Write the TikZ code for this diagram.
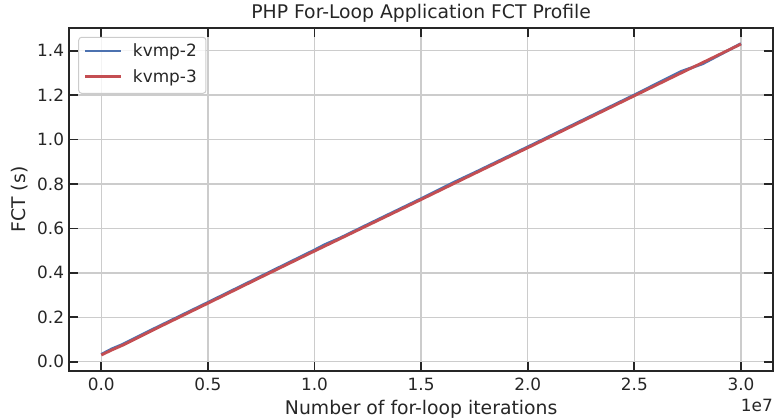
\documentclass[tikz,border=0pt]{standalone}
\usepackage{fontspec}
\setmainfont{DejaVu Sans}
\usepackage{tikz}
\usetikzlibrary{positioning}
\definecolor{kvmptwo}{HTML}{4C72B0}
\definecolor{kvmpthree}{HTML}{C44E52}
\definecolor{axcol}{HTML}{262626}
\definecolor{gridcol}{HTML}{CCCCCC}
\tikzset{plot style/.style={x=213.23bp,y=222.14bp},
	gridline/.style={draw=gridcol,line width=1.4bp},
	spine/.style={draw=axcol,line width=2bp},
	axtick/.style={draw=axcol,line width=1.8bp},
	ticklab/.style={text=axcol,inner sep=0,font=\fontsize{16.9bp}{20bp}\selectfont},
	xtl/.style={ticklab,anchor=north,yshift=-7bp},
	ytl/.style={ticklab,anchor=east,xshift=-5bp},
	biglab/.style={text=axcol,inner sep=0,font=\fontsize{18.8bp}{22bp}\selectfont},
	curve/.style={line width=2.8bp,line join=round},
	handle/.style={line width=2.4bp}}

\begin{document}
\begin{tikzpicture}[plot style]
	\useasboundingbox (-101.3bp,-58.3bp) rectangle (672.7bp,361.7bp);

	% x axis: 0.0 ... 3.0 (x 1e7)
	\draw[gridline] (0,-0.04) -- (0,1.5);
	\draw[axtick] (0,-0.04) -- ++(0,8.5bp) (0,1.5) -- ++(0,-8.5bp);
	\node[xtl] (xt0) at (0,-0.04) {0.0};

	\draw[gridline] (0.5,-0.04) -- (0.5,1.5);
	\draw[axtick] (0.5,-0.04) -- ++(0,8.5bp) (0.5,1.5) -- ++(0,-8.5bp);
	\node[xtl] (xt1) at (0.5,-0.04) {0.5};

	\draw[gridline] (1,-0.04) -- (1,1.5);
	\draw[axtick] (1,-0.04) -- ++(0,8.5bp) (1,1.5) -- ++(0,-8.5bp);
	\node[xtl] (xt2) at (1,-0.04) {1.0};

	\draw[gridline] (1.5,-0.04) -- (1.5,1.5);
	\draw[axtick] (1.5,-0.04) -- ++(0,8.5bp) (1.5,1.5) -- ++(0,-8.5bp);
	\node[xtl] (xt3) at (1.5,-0.04) {1.5};

	\draw[gridline] (2,-0.04) -- (2,1.5);
	\draw[axtick] (2,-0.04) -- ++(0,8.5bp) (2,1.5) -- ++(0,-8.5bp);
	\node[xtl] (xt4) at (2,-0.04) {2.0};

	\draw[gridline] (2.5,-0.04) -- (2.5,1.5);
	\draw[axtick] (2.5,-0.04) -- ++(0,8.5bp) (2.5,1.5) -- ++(0,-8.5bp);
	\node[xtl] (xt5) at (2.5,-0.04) {2.5};

	\draw[gridline] (3,-0.04) -- (3,1.5);
	\draw[axtick] (3,-0.04) -- ++(0,8.5bp) (3,1.5) -- ++(0,-8.5bp);
	\node[xtl] (xt6) at (3,-0.04) {3.0};

	% y axis: 0.0 ... 1.4
	\draw[gridline] (-0.15,0) -- (3.15,0);
	\draw[axtick] (-0.15,0) -- ++(8.5bp,0) (3.15,0) -- ++(-8.5bp,0);
	\node[ytl] (yt0) at (-0.15,0) {0.0};

	\draw[gridline] (-0.15,0.2) -- (3.15,0.2);
	\draw[axtick] (-0.15,0.2) -- ++(8.5bp,0) (3.15,0.2) -- ++(-8.5bp,0);
	\node[ytl] (yt1) at (-0.15,0.2) {0.2};

	\draw[gridline] (-0.15,0.4) -- (3.15,0.4);
	\draw[axtick] (-0.15,0.4) -- ++(8.5bp,0) (3.15,0.4) -- ++(-8.5bp,0);
	\node[ytl] (yt2) at (-0.15,0.4) {0.4};

	\draw[gridline] (-0.15,0.6) -- (3.15,0.6);
	\draw[axtick] (-0.15,0.6) -- ++(8.5bp,0) (3.15,0.6) -- ++(-8.5bp,0);
	\node[ytl] (yt3) at (-0.15,0.6) {0.6};

	\draw[gridline] (-0.15,0.8) -- (3.15,0.8);
	\draw[axtick] (-0.15,0.8) -- ++(8.5bp,0) (3.15,0.8) -- ++(-8.5bp,0);
	\node[ytl] (yt4) at (-0.15,0.8) {0.8};

	\draw[gridline] (-0.15,1.0) -- (3.15,1.0);
	\draw[axtick] (-0.15,1.0) -- ++(8.5bp,0) (3.15,1.0) -- ++(-8.5bp,0);
	\node[ytl] (yt5) at (-0.15,1.0) {1.0};

	\draw[gridline] (-0.15,1.2) -- (3.15,1.2);
	\draw[axtick] (-0.15,1.2) -- ++(8.5bp,0) (3.15,1.2) -- ++(-8.5bp,0);
	\node[ytl] (yt6) at (-0.15,1.2) {1.2};

	\draw[gridline] (-0.15,1.4) -- (3.15,1.4);
	\draw[axtick] (-0.15,1.4) -- ++(8.5bp,0) (3.15,1.4) -- ++(-8.5bp,0);
	\node[ytl] (yt7) at (-0.15,1.4) {1.4};

	\draw[spine] (-0.15,-0.04) rectangle (3.15,1.5);

	% kvmp-2
	\draw[curve, kvmptwo] (0,0.033) -- (0.05,0.058) -- (0.1,0.078) -- (0.25,0.150)
		-- (0.5,0.267) -- (0.75,0.385) -- (1.0,0.503) -- (1.05,0.528) -- (1.12,0.557)
		-- (1.25,0.618) -- (1.5,0.734) -- (1.65,0.806) -- (1.75,0.851) -- (2.0,0.967)
		-- (2.25,1.084) -- (2.5,1.201) -- (2.72,1.307) -- (2.77,1.324) -- (2.82,1.341)
		-- (3.0,1.432);
	% kvmp-3
	\draw[curve, kvmpthree] (0,0.030) -- (0.05,0.053) -- (0.1,0.074) -- (0.25,0.146)
		-- (0.5,0.263) -- (0.75,0.381) -- (1.0,0.498) -- (1.25,0.614) -- (1.5,0.730)
		-- (1.75,0.847) -- (2.0,0.963) -- (2.25,1.080) -- (2.5,1.197) -- (2.75,1.314)
		-- (3.0,1.430);

	% legend
	\draw[draw=gridcol, fill=white, fill opacity=0.8, rounded corners=3bp, line width=1bp] (-0.106,1.2082) rectangle (0.491,1.4603);
	\draw[handle, kvmptwo] (-0.0764,1.3987) -- (0.091,1.3987);
	\node[ticklab, anchor=base west] (lg2) at (0.1477,1.374) {kvmp-2};
	\draw[handle, kvmpthree] (-0.0764,1.283) -- (0.091,1.283);
	\node[ticklab, anchor=base west] (lg3) at (0.1477,1.258) {kvmp-3};

	% labels
	\node[biglab, anchor=base] (title) at (1.5,1.5) [yshift=9.5bp] {PHP For-Loop Application FCT Profile};
	\node[biglab, anchor=base] (xlab) at (1.5,-0.04) [yshift=-44.4bp] {Number of for-loop iterations};
	\node[biglab, anchor=base, rotate=90] (ylab) at (-0.3545,0.73) {FCT (s)};
	\node[ticklab, anchor=base east] (xexp) at (3.15,-0.04) [yshift=-41bp] {1e7};
\end{tikzpicture}
\end{document}
